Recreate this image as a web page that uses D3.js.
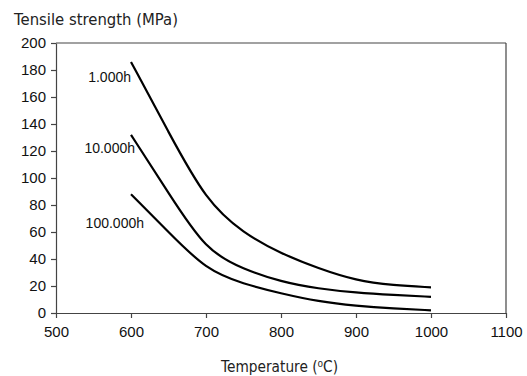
<!DOCTYPE html>
<html>
<head>
<meta charset="utf-8">
<script src="https://cdn.jsdelivr.net/npm/d3@7"></script>
<style>
body { margin: 0; background: #fff; }
</style>
</head>
<body>
<svg id="chart"></svg>
<script>
var temps = [600, 650, 700, 750, 800, 850, 900, 950, 1000];
var h1000 = [186, 134, 83, 59, 44, 33, 24, 20.5, 19];
var h10000 = [132, 89, 46, 32.5, 23, 18, 15, 13.3, 12];
var h100000 = [88, 60, 32, 21.5, 14.5, 8.5, 5.3, 3.3, 2];
var seriesNames = ["1.000h", "10.000h", "100.000h"];
var xTicks = [500, 600, 700, 800, 900, 1000, 1100];
var yTicks = [0, 20, 40, 60, 80, 100, 120, 140, 160, 180, 200];

var w = 527;
var h = 376;
var margin = {
	left: 56,
	right: 21,
	top: 43,
	bottom: 63
}
var series = [h1000, h10000, h100000].map(function (vals, i) {
	return {
		name: seriesNames[i],
		points: temps.map(function (t, j) { return { t: t, v: vals[j] }; })
	};
});
// label offsets from first point of each curve
var labelOff = [[0, 20], [4, 18], [13, 34]];
var arial = "Arial, 'Liberation Sans', Arimo, Helvetica, sans-serif";

var svg = d3.select("#chart")
	.attr("width", w)
	.attr("height", h);
var xScale = d3.scaleLinear()
	.domain([500, 1100])
	.range([margin.left, w - margin.right]);
var yScale = d3.scaleLinear()
	.domain([0, 200])
	.range([h - margin.bottom, margin.top]);

// frame top/right
svg.append("line")
	.attr("x1", xScale(500)).attr("x2", xScale(1100))
	.attr("y1", yScale(200)).attr("y2", yScale(200))
	.attr("stroke", "#444").attr("stroke-width", 1.2);
svg.append("line")
	.attr("x1", xScale(1100)).attr("x2", xScale(1100))
	.attr("y1", yScale(200)).attr("y2", yScale(0))
	.attr("stroke", "#444").attr("stroke-width", 1.2);

var xAxis = d3.axisBottom(xScale).tickValues(xTicks).tickFormat(d3.format("d"))
	.tickSize(5).tickPadding(8).tickSizeOuter(0);
var yAxis = d3.axisLeft(yScale).tickValues(yTicks).tickFormat(d3.format("d"))
	.tickSize(5).tickPadding(5).tickSizeOuter(0);
var gx = svg.append("g")
	.attr("transform", "translate(0," + yScale(0) + ")")
	.call(xAxis);
var gy = svg.append("g")
	.attr("transform", "translate(" + xScale(500) + ",0)")
	.call(yAxis);
[gx, gy].forEach(function (g) {
	g.attr("font-family", arial).attr("font-size", 15);
	g.selectAll("path, line").attr("stroke", "#444").attr("stroke-width", 1.2);
	g.selectAll("text").attr("fill", "#111");
});

var line = d3.line()
	.x(function (d) { return xScale(d.t); })
	.y(function (d) { return yScale(d.v); })
	.curve(d3.curveBasis);
svg.selectAll("path.curve")
	.data(series)
	.enter()
	.append("path")
	.classed("curve", true)
	.attr("d", function (d) { return line(d.points); })
	.attr("fill", "none")
	.attr("stroke", "#000")
	.attr("stroke-width", 2.2);

svg.selectAll("text.lbl")
	.data(series)
	.enter()
	.append("text")
	.classed("lbl", true)
	.attr("x", function (d, i) { return xScale(d.points[0].t) + labelOff[i][0]; })
	.attr("y", function (d, i) { return yScale(d.points[0].v) + labelOff[i][1]; })
	.attr("text-anchor", "end")
	.attr("font-family", arial)
	.attr("font-size", 14)
	.attr("fill", "#111")
	.text(function (d) { return d.name; });

svg.append("text")
	.attr("x", 14)
	.attr("y", 25)
	.attr("textLength", 164)
	.attr("lengthAdjust", "spacingAndGlyphs")
	.attr("font-family", "'DejaVu Sans', sans-serif")
	.attr("font-size", 15)
	.attr("fill", "#222")
	.text("Tensile strength (MPa)");

svg.append("text")
	.attr("x", 221)
	.attr("y", 372)
	.attr("textLength", 117)
	.attr("lengthAdjust", "spacingAndGlyphs")
	.attr("font-family", "'DejaVu Sans', sans-serif")
	.attr("font-size", 15)
	.attr("fill", "#222")
	.text("Temperature (\u2070C)");
</script>
</body>
</html>
